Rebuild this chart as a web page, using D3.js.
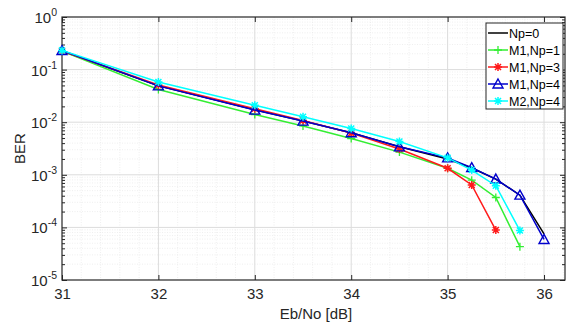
<!DOCTYPE html>
<html>
<head>
<meta charset="utf-8">
<script src="https://cdn.jsdelivr.net/npm/d3@7"></script>
<style>
  body { margin: 0; background: #fff; }
  text { font-family: "Liberation Sans", Arial, sans-serif; }
</style>
</head>
<body>
<div id="chart"></div>
<script>
// BER vs Eb/No data
const ebno = [31, 32, 33, 33.5, 34, 34.5, 35, 35.25, 35.5, 35.75, 36];
const berNp0   = [0.225, 0.049, 0.0172, 0.0105, 0.0063, 0.0034, 0.00200, 0.00135, 0.00083, 0.00041, 0.000075];
const berM1Np1 = [0.225, 0.042, 0.0140, 0.0085, 0.0049, 0.0027, 0.00133, 0.00079, 0.00037, 0.000043];
const berM1Np3 = [0.225, 0.051, 0.0180, 0.0108, 0.0062, 0.0031, 0.00133, 0.00064, 0.000089];
const berM1Np4 = [0.230, 0.049, 0.0170, 0.0105, 0.0063, 0.0034, 0.00210, 0.00137, 0.00083, 0.00041, 0.000059];
const berM2Np4 = [0.232, 0.058, 0.0210, 0.0127, 0.0076, 0.0043, 0.00210, 0.00123, 0.00062, 0.000087];

const seriesNames = ["Np=0", "M1,Np=1", "M1,Np=3", "M1,Np=4", "M2,Np=4"];
const seriesColors = ["#000000", "#33ee33", "#ff1a1a", "#0000cc", "#00ffff"];
const seriesMarkers = ["none", "plus", "star", "triangle", "star"];
const seriesValues = [berNp0, berM1Np1, berM1Np3, berM1Np4, berM2Np4];

const W = 566, H = 324;
const pLeft = 62, pRight = 565, pTop = 17, pBottom = 280;

const svg = d3.select("#chart").append("svg").attr("width", W).attr("height", H);

const x = d3.scaleLinear().domain([31, 36.2]).range([pLeft, 563.3]);
const y = d3.scaleLog().domain([1e-5, 1]).range([pBottom, pTop]);

// minor grid
const minorY = [];
for (let e = -5; e < 0; e++) for (let m = 2; m <= 9; m++) minorY.push(m * Math.pow(10, e));
const minorX = d3.range(31.2, 36.2, 0.2).filter(v => Math.abs(v - Math.round(v)) > 0.01);

const grid = svg.append("g");
grid.selectAll(".my").data(minorY).enter().append("line")
  .attr("x1", pLeft).attr("x2", pRight)
  .attr("y1", d => y(d)).attr("y2", d => y(d))
  .attr("stroke", "#e4e4e4").attr("stroke-width", 0.6).attr("stroke-dasharray", "1,1.5");
grid.selectAll(".mx").data(minorX).enter().append("line")
  .attr("x1", d => x(d)).attr("x2", d => x(d))
  .attr("y1", pTop).attr("y2", pBottom)
  .attr("stroke", "#e4e4e4").attr("stroke-width", 0.6).attr("stroke-dasharray", "1,1.5");

const majorY = [1e-4, 1e-3, 1e-2, 1e-1];
const majorX = [32, 33, 34, 35, 36];
grid.selectAll(".gy").data(majorY).enter().append("line")
  .attr("x1", pLeft).attr("x2", pRight)
  .attr("y1", d => y(d)).attr("y2", d => y(d))
  .attr("stroke", "#dcdcdc").attr("stroke-width", 1);
grid.selectAll(".gx").data(majorX).enter().append("line")
  .attr("x1", d => x(d)).attr("x2", d => x(d))
  .attr("y1", pTop).attr("y2", pBottom)
  .attr("stroke", "#dcdcdc").attr("stroke-width", 1);

// axes (ticks pointing inward, MATLAB-like)
const axisColor = "#262626";
const xAxis = svg.append("g").attr("transform", `translate(0,${pBottom})`)
  .call(d3.axisBottom(x).tickValues([31, 32, 33, 34, 35, 36]).tickSize(-5).tickPadding(8).tickFormat(d3.format("d")));
const xTop = svg.append("g").attr("transform", `translate(0,${pTop})`)
  .call(d3.axisTop(x).tickValues([31, 32, 33, 34, 35, 36]).tickSize(-5).tickFormat(""));
const yAxis = svg.append("g").attr("transform", `translate(${pLeft},0)`)
  .call(d3.axisLeft(y).tickValues([1e-5, 1e-4, 1e-3, 1e-2, 1e-1, 1]).tickSize(-5).tickFormat(""));
const yRight = svg.append("g").attr("transform", `translate(${pRight},0)`)
  .call(d3.axisRight(y).tickValues([1e-5, 1e-4, 1e-3, 1e-2, 1e-1, 1]).tickSize(-5).tickFormat(""));
const yMinorL = svg.append("g").attr("transform", `translate(${pLeft},0)`)
  .call(d3.axisLeft(y).tickValues(minorY).tickSize(-3).tickFormat(""));
const yMinorR = svg.append("g").attr("transform", `translate(${pRight},0)`)
  .call(d3.axisRight(y).tickValues(minorY).tickSize(-3).tickFormat(""));

[xAxis, xTop, yAxis, yRight, yMinorL, yMinorR].forEach(a => {
  a.selectAll(".domain").remove();
  a.selectAll("line").attr("stroke", axisColor);
});
xAxis.selectAll("text").attr("font-size", 15).attr("fill", axisColor);

svg.append("rect").attr("x", pLeft).attr("y", pTop)
  .attr("width", pRight - pLeft).attr("height", pBottom - pTop)
  .attr("fill", "none").attr("stroke", axisColor).attr("stroke-width", 1.2);

// y tick labels 10^n
const yLabels = svg.append("g");
[0, -1, -2, -3, -4, -5].forEach(e => {
  const t = yLabels.append("text")
    .attr("x", pLeft - 5).attr("y", y(Math.pow(10, e)) + 6)
    .attr("text-anchor", "end").attr("fill", axisColor).attr("font-size", 15);
  t.append("tspan").text("10");
  t.append("tspan").attr("dy", -7).attr("font-size", 10.5).text(e);
});

// axis labels
svg.append("text").attr("x", 316).attr("y", 319)
  .attr("text-anchor", "middle").attr("font-size", 15).attr("fill", axisColor).text("Eb/No [dB]");
svg.append("text").attr("transform", `translate(25,${(pTop + pBottom) / 2}) rotate(-90)`)
  .attr("text-anchor", "middle").attr("font-size", 15).attr("fill", axisColor).text("BER");

// markers
function drawMarker(g, type, cx, cy, color) {
  if (type === "plus") {
    g.append("path").attr("d", `M${cx - 4},${cy}H${cx + 4}M${cx},${cy - 4}V${cy + 4}`)
      .attr("stroke", color).attr("stroke-width", 1.3).attr("fill", "none");
  } else if (type === "star") {
    g.append("path").attr("d", `M${cx - 4},${cy}H${cx + 4}M${cx},${cy - 4}V${cy + 4}M${cx - 3},${cy - 3}L${cx + 3},${cy + 3}M${cx - 3},${cy + 3}L${cx + 3},${cy - 3}`)
      .attr("stroke", color).attr("stroke-width", 1.5).attr("fill", "none");
  } else if (type === "triangle") {
    g.append("path").attr("d", `M${cx},${cy - 5}L${cx + 5},${cy + 4}L${cx - 5},${cy + 4}Z`)
      .attr("stroke", color).attr("stroke-width", 1.4).attr("fill", "none");
  }
}

const line = d3.line().x(d => x(d[0])).y(d => y(d[1]));
const plot = svg.append("g");
seriesValues.forEach((vals, i) => {
  const pts = vals.map((v, j) => [ebno[j], v]);
  const g = plot.append("g");
  g.append("path").datum(pts).attr("d", line)
    .attr("fill", "none").attr("stroke", seriesColors[i]).attr("stroke-width", 1.5);
  pts.forEach(p => drawMarker(g, seriesMarkers[i], x(p[0]), y(p[1]), seriesColors[i]));
});

// legend
const lg = svg.append("g");
const lx = 486, ly = 23, lw = 77, lh = 86;
lg.append("rect").attr("x", lx).attr("y", ly).attr("width", lw).attr("height", lh)
  .attr("fill", "#fff").attr("stroke", "#262626").attr("stroke-width", 1);
seriesNames.forEach((name, i) => {
  const cy = ly + 10 + i * 17;
  lg.append("line").attr("x1", lx + 2).attr("x2", lx + 22).attr("y1", cy).attr("y2", cy)
    .attr("stroke", seriesColors[i]).attr("stroke-width", 1.5);
  drawMarker(lg, seriesMarkers[i], lx + 12, cy, seriesColors[i]);
  lg.append("text").attr("x", lx + 23).attr("y", cy + 5)
    .attr("font-size", 12.5).attr("fill", "#000").text(name);
});
</script>
</body>
</html>
